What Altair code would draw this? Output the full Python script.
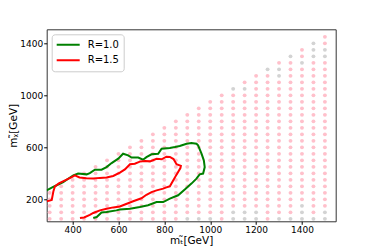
import altair as alt
import pandas as pd

# ---- data ----
mt_columns = [300, 350, 400, 450, 500, 550, 600, 650, 700, 750, 800, 850, 900,
              950, 1000, 1050, 1100, 1150, 1200, 1250, 1300, 1350, 1400, 1450, 1500]
mchi_rows = [50, 100, 150, 200, 250, 300, 350, 400, 450, 500, 550, 600, 650, 700,
             750, 800, 850, 900, 950, 1000, 1050, 1100, 1150, 1200, 1250, 1300,
             1350, 1400, 1450]
mass_gap = 50  # grid only where m_chi <= m_stop - 50

gray_points = [(1100, 1050), (1150, 1050), (1300, 1150), (1250, 1200), (1300, 1200),
               (1400, 1250), (1350, 1300), (1450, 1300), (1500, 1300), (1450, 1350),
               (1500, 1350), (1450, 1400),
               (1400, 150), (1100, 100), (1150, 100), (1200, 100), (1400, 100),
               (1500, 100), (900, 50), (950, 50), (1000, 50), (1100, 50), (1150, 50),
               (1200, 50), (1300, 50), (1350, 50), (1400, 50), (1450, 50), (1500, 50)]

r10_x = [287, 315, 359, 403, 424, 461, 475, 497, 526, 548, 570, 599, 620, 642, 657,
         686, 707, 722, 744, 773, 788, 824, 846, 867, 897, 918, 940, 947, 962, 972,
         976, 969, 954, 940, 918, 889, 860, 824, 795, 766, 729, 693, 650, 606, 591,
         548, 526, 505, 490]
r10_y = [269, 295, 333, 385, 398, 392, 402, 428, 428, 448, 479, 513, 551, 538, 521,
         521, 505, 525, 546, 551, 590, 595, 602, 610, 628, 633, 628, 615, 551, 500,
         448, 398, 392, 359, 321, 275, 231, 205, 179, 179, 154, 141, 128, 121, 115,
         102, 98, 64, 56]

r15_x = [287, 300, 309, 316, 323, 340, 367, 396, 410, 430, 460, 490, 519, 548, 577,
         606, 628, 650, 671, 693, 715, 737, 766, 788, 809, 824, 840, 853, 872, 870,
         853, 839, 824, 809, 795, 766, 744, 722, 700, 664, 628, 606, 577, 548, 519,
         490, 475, 450, 432]
r15_y = [185, 190, 195, 260, 300, 322, 346, 370, 385, 368, 362, 360, 365, 368, 380,
         405, 430, 470, 474, 490, 495, 492, 512, 508, 528, 526, 510, 470, 458, 440,
         390, 346, 300, 292, 282, 269, 256, 235, 208, 185, 160, 145, 138, 128, 115,
         95, 80, 60, 56]

series_names = ["R=1.0", "R=1.5"]
series_colors = ["green", "red"]
x_ticks = [400, 600, 800, 1000, 1200, 1400]
y_ticks = [200, 400, 600, 800, 1000, 1200, 1400]

# ---- tables ----
gray_set = set(gray_points)
pts = []
for mt in mt_columns:
    for mc in mchi_rows:
        if mc <= mt - mass_gap:
            pts.append({"mt": mt, "mchi": mc,
                        "c": "#d3d3d3" if (mt, mc) in gray_set else "#ffc0cb"})
pts_df = pd.DataFrame(pts)

lines = []
for name, xs, ys in [("R=1.0", r10_x, r10_y), ("R=1.5", r15_x, r15_y)]:
    for i, (a, b) in enumerate(zip(xs, ys)):
        lines.append({"series": name, "i": i, "mt": a, "mchi": b})
lines_df = pd.DataFrame(lines)

FONT = "DejaVu Sans"
xscale = alt.Scale(domain=[287, 1547], nice=False, zero=False)
yscale = alt.Scale(domain=[31, 1508], nice=False, zero=False)

xaxis = alt.Axis(values=x_ticks, format="d", grid=False, tickSize=3, labelPadding=1,
                 labelFontSize=9, labelFont=FONT, labelColor="black",
                 tickColor="black", domain=False,
                 title="m\u209c\u0303[GeV]", titleFont=FONT, titleFontSize=10.5,
                 titleFontWeight="normal", titleColor="black", titlePadding=1)
yaxis = alt.Axis(values=y_ticks, format="d", grid=False, tickSize=3, labelPadding=1,
                 labelFontSize=9, labelFont=FONT, labelColor="black",
                 tickColor="black", domain=False,
                 title="m\u1d6a\u0303[GeV]", titleFont=FONT, titleFontSize=10.5,
                 titleFontWeight="normal", titleColor="black", titlePadding=1)

points = alt.Chart(pts_df).mark_circle(size=15, opacity=1).encode(
    x=alt.X("mt:Q", scale=xscale, axis=xaxis),
    y=alt.Y("mchi:Q", scale=yscale, axis=yaxis),
    color=alt.Color("c:N", scale=None),
)

curves = alt.Chart(lines_df).mark_line(strokeWidth=2, clip=True).encode(
    x=alt.X("mt:Q", scale=xscale),
    y=alt.Y("mchi:Q", scale=yscale),
    order="i:Q",
    color=alt.Color("series:N",
                    scale=alt.Scale(domain=series_names, range=series_colors),
                    legend=alt.Legend(title=None, orient="none", legendX=5, legendY=5,
                                      symbolType="stroke", symbolSize=529,
                                      symbolStrokeWidth=2, clipHeight=13,
                                      rowPadding=2.5, padding=4,
                                      labelFont=FONT, labelFontSize=10,
                                      labelColor="black", labelOffset=7,
                                      fillColor="rgba(255,255,255,0.8)",
                                      strokeColor="#cccccc", cornerRadius=3)),
)

chart = alt.layer(points, curves).properties(
    width=289, height=192,
    autosize=alt.AutoSizeParams(type="none"),
    padding={"left": 38.7, "top": 21.3, "right": 20, "bottom": 28},
).configure_view(stroke="#333333", strokeWidth=1)

chart.save("out.html", embed_options={"renderer": "svg", "actions": False})
